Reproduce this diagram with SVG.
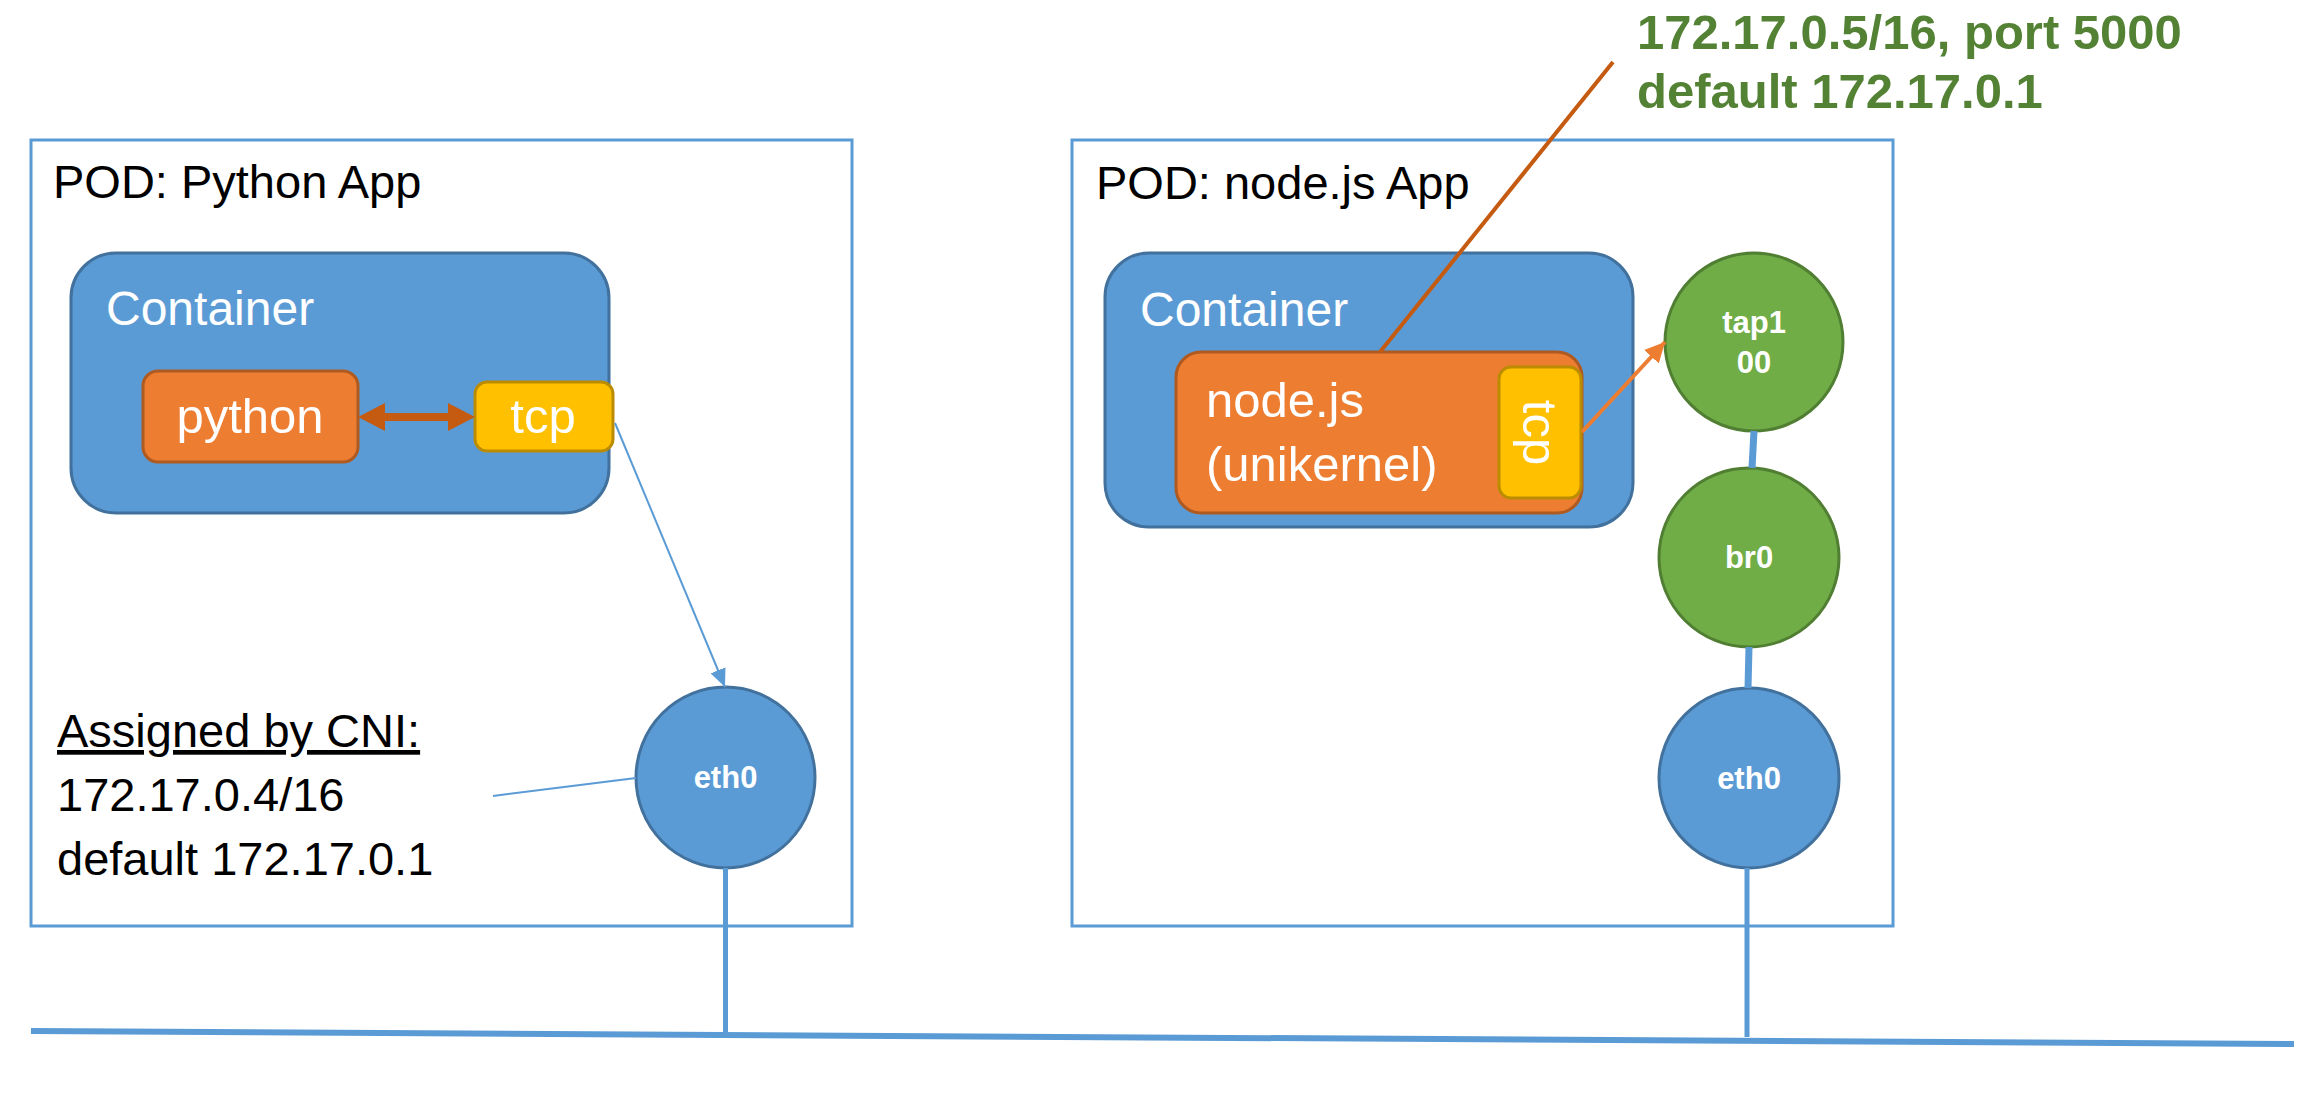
<svg xmlns="http://www.w3.org/2000/svg" width="2316" height="1096" viewBox="0 0 2316 1096">
<style>
  text { font-family: "Liberation Sans", Arial, sans-serif; }
  .pod { fill: #ffffff; stroke: #5B9BD5; stroke-width: 3; }
  .title { font-size: 47px; fill: #000000; }
  .cont { fill: #5B9BD5; stroke: #41719C; stroke-width: 3; }
  .contlbl { font-size: 48px; fill: #ffffff; }
  .app { fill: #ED7D31; stroke: #AE5A21; stroke-width: 3; }
  .tcp { fill: #FFC000; stroke: #BC8C00; stroke-width: 3; }
  .lbl { font-size: 49px; fill: #ffffff; }
  .blue { fill: #5B9BD5; stroke: #41719C; stroke-width: 3; }
  .green { fill: #70AD47; stroke: #507E32; stroke-width: 3; }
  .nic { font-size: 31px; font-weight: bold; fill: #ffffff; text-anchor: middle; }
  .note { font-size: 47px; fill: #000000; }
  .gnote { font-size: 49px; font-weight: bold; fill: #548235; }
  .wire { stroke: #5B9BD5; fill: none; }
</style>
<defs>
  <marker id="blueHead" markerUnits="userSpaceOnUse" markerWidth="18" markerHeight="16" refX="18" refY="8" orient="auto">
    <path d="M0,0 L18,8 L0,16 z" fill="#5B9BD5"/>
  </marker>
  <marker id="orangeHead" markerUnits="userSpaceOnUse" markerWidth="20" markerHeight="20" refX="20" refY="10" orient="auto">
    <path d="M0,0 L20,10 L0,20 z" fill="#ED7D31"/>
  </marker>
  <marker id="darkHead" markerUnits="userSpaceOnUse" markerWidth="27" markerHeight="28" refX="10" refY="14" orient="auto-start-reverse">
    <path d="M0,0 L27,14 L0,28 z" fill="#C55A11"/>
  </marker>
</defs>

<g id="pod-python">
  <rect class="pod" x="31" y="140" width="821" height="786"/>
  <text class="title" x="53" y="198">POD: Python App</text>
</g>
<g id="container-python">
  <rect class="cont" x="71" y="253" width="538" height="260" rx="45" ry="45"/>
  <text class="contlbl" x="106" y="325">Container</text>
</g>
<g id="python">
  <rect class="app" x="143" y="371" width="215" height="91" rx="15" ry="15"/>
  <text class="lbl" x="250" y="433" text-anchor="middle">python</text>
</g>
<g id="tcp-python">
  <rect class="tcp" x="475" y="382" width="138" height="69" rx="12" ry="12"/>
  <text class="lbl" x="543" y="433" text-anchor="middle">tcp</text>
</g>
<g id="eth0-python">
  <ellipse class="blue" cx="725.5" cy="777.5" rx="89.5" ry="90.5"/>
  <text class="nic" x="725.5" y="788">eth0</text>
</g>
<g id="cni-note">
  <text class="note" x="57" y="747" text-decoration="underline">Assigned by CNI:</text>
  <text class="note" x="57" y="811">172.17.0.4/16</text>
  <text class="note" x="57" y="875">default 172.17.0.1</text>
</g>

<g id="pod-node">
  <rect class="pod" x="1072" y="140" width="821" height="786"/>
  <text class="title" x="1096" y="199">POD: node.js App</text>
</g>
<g id="container-node">
  <rect class="cont" x="1105" y="253" width="528" height="274" rx="44" ry="44"/>
  <text class="contlbl" x="1140" y="326">Container</text>
</g>
<g id="nodejs">
  <rect class="app" x="1176" y="352" width="406" height="161" rx="25" ry="25"/>
  <text class="lbl" x="1206" y="417">node.js</text>
  <text class="lbl" x="1206" y="481">(unikernel)</text>
</g>
<g id="tcp-node">
  <rect class="tcp" x="1499" y="367" width="82" height="131" rx="12" ry="12"/>
  <text class="lbl" transform="translate(1523,432.5) rotate(90)" text-anchor="middle">tcp</text>
</g>
<g id="tap100">
  <ellipse class="green" cx="1754" cy="342" rx="89" ry="89"/>
  <text class="nic" x="1754" y="333">tap1</text>
  <text class="nic" x="1754" y="373">00</text>
</g>
<g id="br0">
  <ellipse class="green" cx="1749" cy="557.5" rx="90" ry="89.5"/>
  <text class="nic" x="1749" y="568">br0</text>
</g>
<g id="eth0-node">
  <ellipse class="blue" cx="1749" cy="778" rx="90" ry="90"/>
  <text class="nic" x="1749" y="789">eth0</text>
</g>
<g id="ip-note">
  <text class="gnote" x="1637" y="49">172.17.0.5/16, port 5000</text>
  <text class="gnote" x="1637" y="108">default 172.17.0.1</text>
</g>

<g id="connectors">
  <line x1="375" y1="417" x2="458" y2="417" stroke="#C55A11" stroke-width="8" marker-start="url(#darkHead)" marker-end="url(#darkHead)"/>
  <line class="wire" x1="615" y1="423" x2="725" y2="687" stroke-width="2" marker-end="url(#blueHead)"/>
  <line class="wire" x1="493" y1="796" x2="636" y2="778" stroke-width="2"/>
  <line x1="1380" y1="352" x2="1613" y2="62" stroke="#C55A11" stroke-width="4"/>
  <line x1="1582" y1="432" x2="1665" y2="342" stroke="#ED7D31" stroke-width="4" marker-end="url(#orangeHead)"/>
  <line class="wire" x1="1754" y1="431" x2="1752" y2="468" stroke-width="7"/>
  <line class="wire" x1="1749" y1="647" x2="1748" y2="688" stroke-width="7"/>
  <line class="wire" x1="725.5" y1="868" x2="725.5" y2="1032" stroke-width="5"/>
  <line class="wire" x1="1747" y1="868" x2="1747" y2="1037" stroke-width="5"/>
  <line class="wire" x1="31" y1="1031" x2="2294" y2="1044" stroke-width="6"/>
</g>
</svg>
